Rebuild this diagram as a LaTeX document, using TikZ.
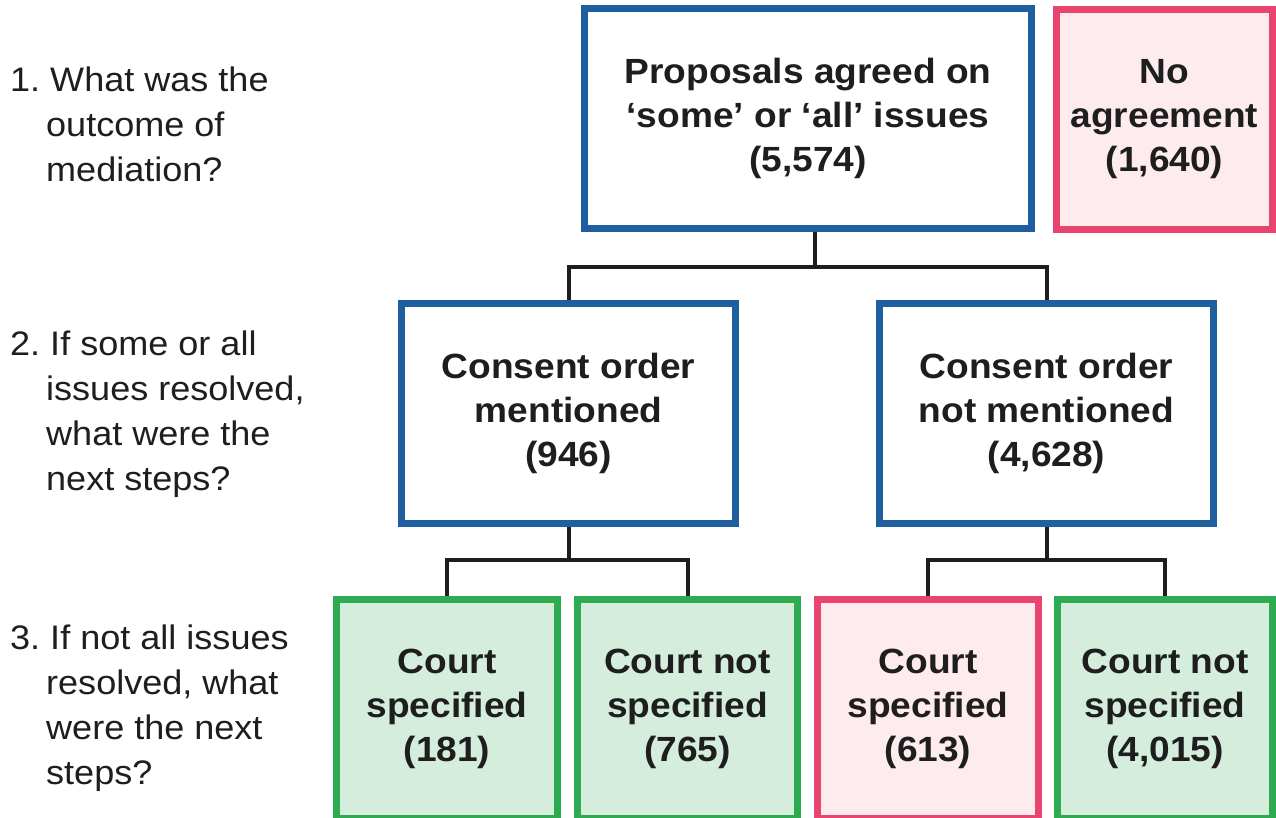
\documentclass[tikz,border=0pt]{standalone}
\usepackage{fontspec}
\setmainfont{Liberation Sans}[FakeStretch=1.06]
\usepackage{tikz}
\usetikzlibrary{positioning}
\definecolor{boxblue}{HTML}{1F5FA0}
\definecolor{boxpink}{HTML}{E9436F}
\definecolor{fillpink}{HTML}{FDEBEE}
\definecolor{boxgreen}{HTML}{2EAB50}
\definecolor{fillgreen}{HTML}{D5EDDC}
\definecolor{inkdark}{HTML}{1E1E1E}
\newcommand{\qind}{\hspace*{36pt}}

\begin{document}
\begin{tikzpicture}[x=1pt,y=-1pt,
  box/.style={draw,line width=7pt,inner sep=0pt,outer sep=0pt,align=center,text=inkdark,
    font=\bfseries\fontsize{35}{44}\selectfont},
  bluebox/.style={box,draw=boxblue,fill=white,minimum width=334pt,minimum height=220pt},
  pinkbox/.style={box,draw=boxpink,fill=fillpink},
  greenbox/.style={box,draw=boxgreen,fill=fillgreen},
  leaf/.style={minimum width=220pt,minimum height=219pt},
  question/.style={anchor=north west,align=left,inner sep=0pt,text=inkdark,
    font=\fontsize{34}{45}\selectfont},
  link/.style={draw=inkdark,line width=4pt}]
  \useasboundingbox[fill=white] (0,0) rectangle (1276,818);

  % questions on the left
  \node[question] (q1) at (10,67) {1.~What was the\\\qind outcome of\\\qind mediation?};
  \node[question] (q2) at (10,331) {2.~If some or all\\\qind issues resolved,\\\qind what were the\\\qind next steps?};
  \node[question] (q3) at (10,625) {3.~If not all issues\\\qind resolved, what\\\qind were the next\\\qind steps?};

  % level 1
  \node[bluebox,minimum width=447pt] (agreed) at (808,118.5) {Proposals agreed on\\‘some’ or ‘all’ issues\\(5,574)};
  \node[pinkbox,minimum width=216pt,minimum height=220pt] (noagree) at (1164.5,119.5) {No\\agreement\\(1,640)};

  % level 2
  \node[bluebox] (mentioned) at (568.5,413.5) {Consent order\\mentioned\\(946)};
  \node[bluebox] (notmentioned) at (1046.5,413.5) {Consent order\\not mentioned\\(4,628)};

  % level 3
  \node[greenbox,leaf,minimum width=221pt] (mcourt) at (447,709) {Court\\specified\\(181)};
  \node[greenbox,leaf] (mnocourt) at (687.5,709) {Court not\\specified\\(765)};
  \node[pinkbox,leaf,minimum width=221pt] (ncourt) at (928,709) {Court\\specified\\(613)};
  \node[greenbox,leaf,minimum width=215pt] (nnocourt) at (1165,709) {Court not\\specified\\(4,015)};

  % tree links
  \draw[link] ([xshift=7pt,yshift=-3.5pt]agreed.south) -- ++(0,35) -| ([yshift=3.5pt]mentioned.north);
  \draw[link] ([xshift=7pt,yshift=-3.5pt]agreed.south) -- ++(0,35) -| ([yshift=3.5pt]notmentioned.north);
  \draw[link] ([yshift=-3.5pt]mentioned.south) -- ++(0,33) -| ([yshift=3.5pt]mcourt.north);
  \draw[link] ([yshift=-3.5pt]mentioned.south) -- ++(0,33) -| ([yshift=3.5pt]mnocourt.north);
  \draw[link] ([yshift=-3.5pt]notmentioned.south) -- ++(0,33) -| ([yshift=3.5pt]ncourt.north);
  \draw[link] ([yshift=-3.5pt]notmentioned.south) -- ++(0,33) -| ([yshift=3.5pt]nnocourt.north);
\end{tikzpicture}
\end{document}
